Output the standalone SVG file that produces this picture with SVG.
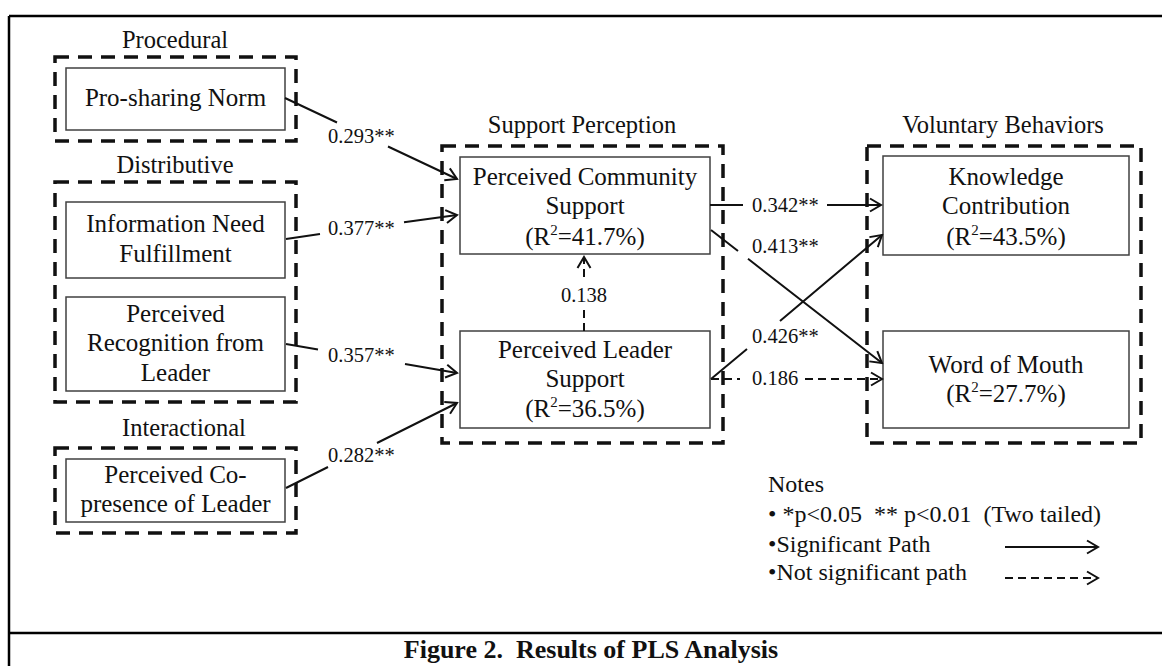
<svg xmlns="http://www.w3.org/2000/svg" width="1162" height="666" viewBox="0 0 1162 666">
  <style>
    text { font-family: "Liberation Serif", "Times New Roman", serif; fill: #111; }
    .lbl { font-size: 25px; text-anchor: middle; }
    .grp { font-size: 24.5px; text-anchor: middle; }
    .coef { font-size: 20.5px; }
    .note { font-size: 24px; white-space: pre; }
    .cap { font-size: 26px; font-weight: bold; text-anchor: middle; white-space: pre; }
    .box { fill: #fff; stroke: #404040; stroke-width: 1.5; }
    .group { fill: none; stroke: #111; stroke-width: 3.5; stroke-dasharray: 14 9; }
    .frame { stroke: #000; stroke-width: 2.5; fill: none; }
    .path { fill: none; stroke: #111; stroke-width: 2; }
    .ns { stroke-dasharray: 8 5; }
  </style>
  <defs>
    <marker id="arrow" viewBox="-13 -8 15 16" refX="0" refY="0" markerWidth="15" markerHeight="16" orient="auto" markerUnits="userSpaceOnUse">
      <path d="M-11,-6.5 L0,0 L-11,6.5" fill="none" stroke="#111" stroke-width="2"/>
    </marker>
  </defs>

  <!-- frame and caption -->
  <g id="frame">
    <line class="frame" x1="9" y1="16" x2="1162" y2="16"/>
    <line class="frame" x1="9" y1="16" x2="9" y2="666"/>
    <line class="frame" x1="9" y1="633" x2="1162" y2="633"/>
    <text class="cap" x="591" y="658">Figure 2.  Results of PLS Analysis</text>
  </g>

  <!-- construct groupings -->
  <g id="group-procedural">
    <text class="grp" x="175" y="48">Procedural</text>
    <rect class="group" x="55" y="57" width="241" height="84"/>
  </g>
  <g id="group-distributive">
    <text class="grp" x="175" y="173">Distributive</text>
    <rect class="group" x="55" y="182" width="241" height="220"/>
  </g>
  <g id="group-interactional">
    <text class="grp" x="184" y="436">Interactional</text>
    <rect class="group" x="55" y="448" width="241" height="85"/>
  </g>
  <g id="group-support">
    <text class="grp" x="582" y="133">Support Perception</text>
    <rect class="group" x="442" y="146" width="281" height="297"/>
  </g>
  <g id="group-voluntary">
    <text class="grp" x="1003" y="133">Voluntary Behaviors</text>
    <rect class="group" x="867" y="146" width="274" height="297"/>
  </g>

  <!-- constructs -->
  <g id="node-prosharing">
    <rect class="box" x="66" y="68" width="219" height="62"/>
    <text class="lbl" x="175.5" y="106">Pro-sharing Norm</text>
  </g>
  <g id="node-infoneed">
    <rect class="box" x="66" y="202" width="219" height="76"/>
    <text class="lbl" x="175.5" y="232">Information Need</text>
    <text class="lbl" x="175.5" y="262">Fulfillment</text>
  </g>
  <g id="node-recognition">
    <rect class="box" x="66" y="297" width="219" height="94"/>
    <text class="lbl" x="175.5" y="322">Perceived</text>
    <text class="lbl" x="175.5" y="351">Recognition from</text>
    <text class="lbl" x="175.5" y="381">Leader</text>
  </g>
  <g id="node-copresence">
    <rect class="box" x="66" y="459" width="219" height="63"/>
    <text class="lbl" x="175.5" y="483">Perceived Co-</text>
    <text class="lbl" x="175.5" y="512">presence of Leader</text>
  </g>
  <g id="node-community">
    <rect class="box" x="460" y="157" width="250" height="97"/>
    <text class="lbl" x="585" y="185">Perceived Community</text>
    <text class="lbl" x="585" y="214">Support</text>
    <text class="lbl" x="585" y="245">(R<tspan font-size="15" dy="-10">2</tspan><tspan dy="10">=41.7%)</tspan></text>
  </g>
  <g id="node-leader">
    <rect class="box" x="460" y="331" width="250" height="97"/>
    <text class="lbl" x="585" y="358">Perceived Leader</text>
    <text class="lbl" x="585" y="387">Support</text>
    <text class="lbl" x="585" y="417">(R<tspan font-size="15" dy="-10">2</tspan><tspan dy="10">=36.5%)</tspan></text>
  </g>
  <g id="node-knowledge">
    <rect class="box" x="883" y="156" width="246" height="99"/>
    <text class="lbl" x="1006" y="185">Knowledge</text>
    <text class="lbl" x="1006" y="214">Contribution</text>
    <text class="lbl" x="1006" y="245">(R<tspan font-size="15" dy="-10">2</tspan><tspan dy="10">=43.5%)</tspan></text>
  </g>
  <g id="node-wom">
    <rect class="box" x="883" y="331" width="246" height="97"/>
    <text class="lbl" x="1006" y="373">Word of Mouth</text>
    <text class="lbl" x="1006" y="402">(R<tspan font-size="15" dy="-10">2</tspan><tspan dy="10">=27.7%)</tspan></text>
  </g>

  <!-- structural paths -->
  <g id="connectors">
    <path class="path" d="M285,98 L337,122.5 M388,146.5 L457,179" marker-end="url(#arrow)"/>
    <text class="coef" x="328" y="143">0.293**</text>
    <path class="path" d="M286,239 L320,234 M404,222.3 L457,215" marker-end="url(#arrow)"/>
    <text class="coef" x="328" y="235">0.377**</text>
    <path class="path" d="M286,344 L318,349.4 M405,364 L457,373" marker-end="url(#arrow)"/>
    <text class="coef" x="328" y="362">0.357**</text>
    <path class="path" d="M286,488 L328,467 M377,443 L457,403" marker-end="url(#arrow)"/>
    <text class="coef" x="328" y="462">0.282**</text>

    <path class="path ns" d="M584,331 L584,307 M584,277 L584,257" marker-end="url(#arrow)"/>
    <text class="coef" x="584" y="302" text-anchor="middle">0.138</text>

    <path class="path" d="M710,205 L743,205 M827,205 L881,205" marker-end="url(#arrow)"/>
    <text class="coef" x="752" y="212">0.342**</text>
    <path class="path" d="M711,230 L738,251 M748,258.8 L882,363" marker-end="url(#arrow)"/>
    <text class="coef" x="752" y="253">0.413**</text>
    <path class="path" d="M711,379 L747,349 M780,321 L882,235" marker-end="url(#arrow)"/>
    <text class="coef" x="752" y="343">0.426**</text>
    <path class="path ns" d="M711,379 L740,379 M805,379 L882,379" marker-end="url(#arrow)"/>
    <text class="coef" x="752" y="385">0.186</text>
  </g>

  <!-- legend -->
  <g id="legend">
    <text class="note" x="768" y="492">Notes</text>
    <text class="note" x="768" y="522">• *p&lt;0.05  ** p&lt;0.01  (Two tailed)</text>
    <text class="note" x="768" y="552">•Significant Path</text>
    <text class="note" x="768" y="580">•Not significant path</text>
    <path class="path" d="M1005,547 L1098,547" marker-end="url(#arrow)"/>
    <path class="path ns" d="M1005,578 L1098,578" marker-end="url(#arrow)"/>
  </g>
</svg>
